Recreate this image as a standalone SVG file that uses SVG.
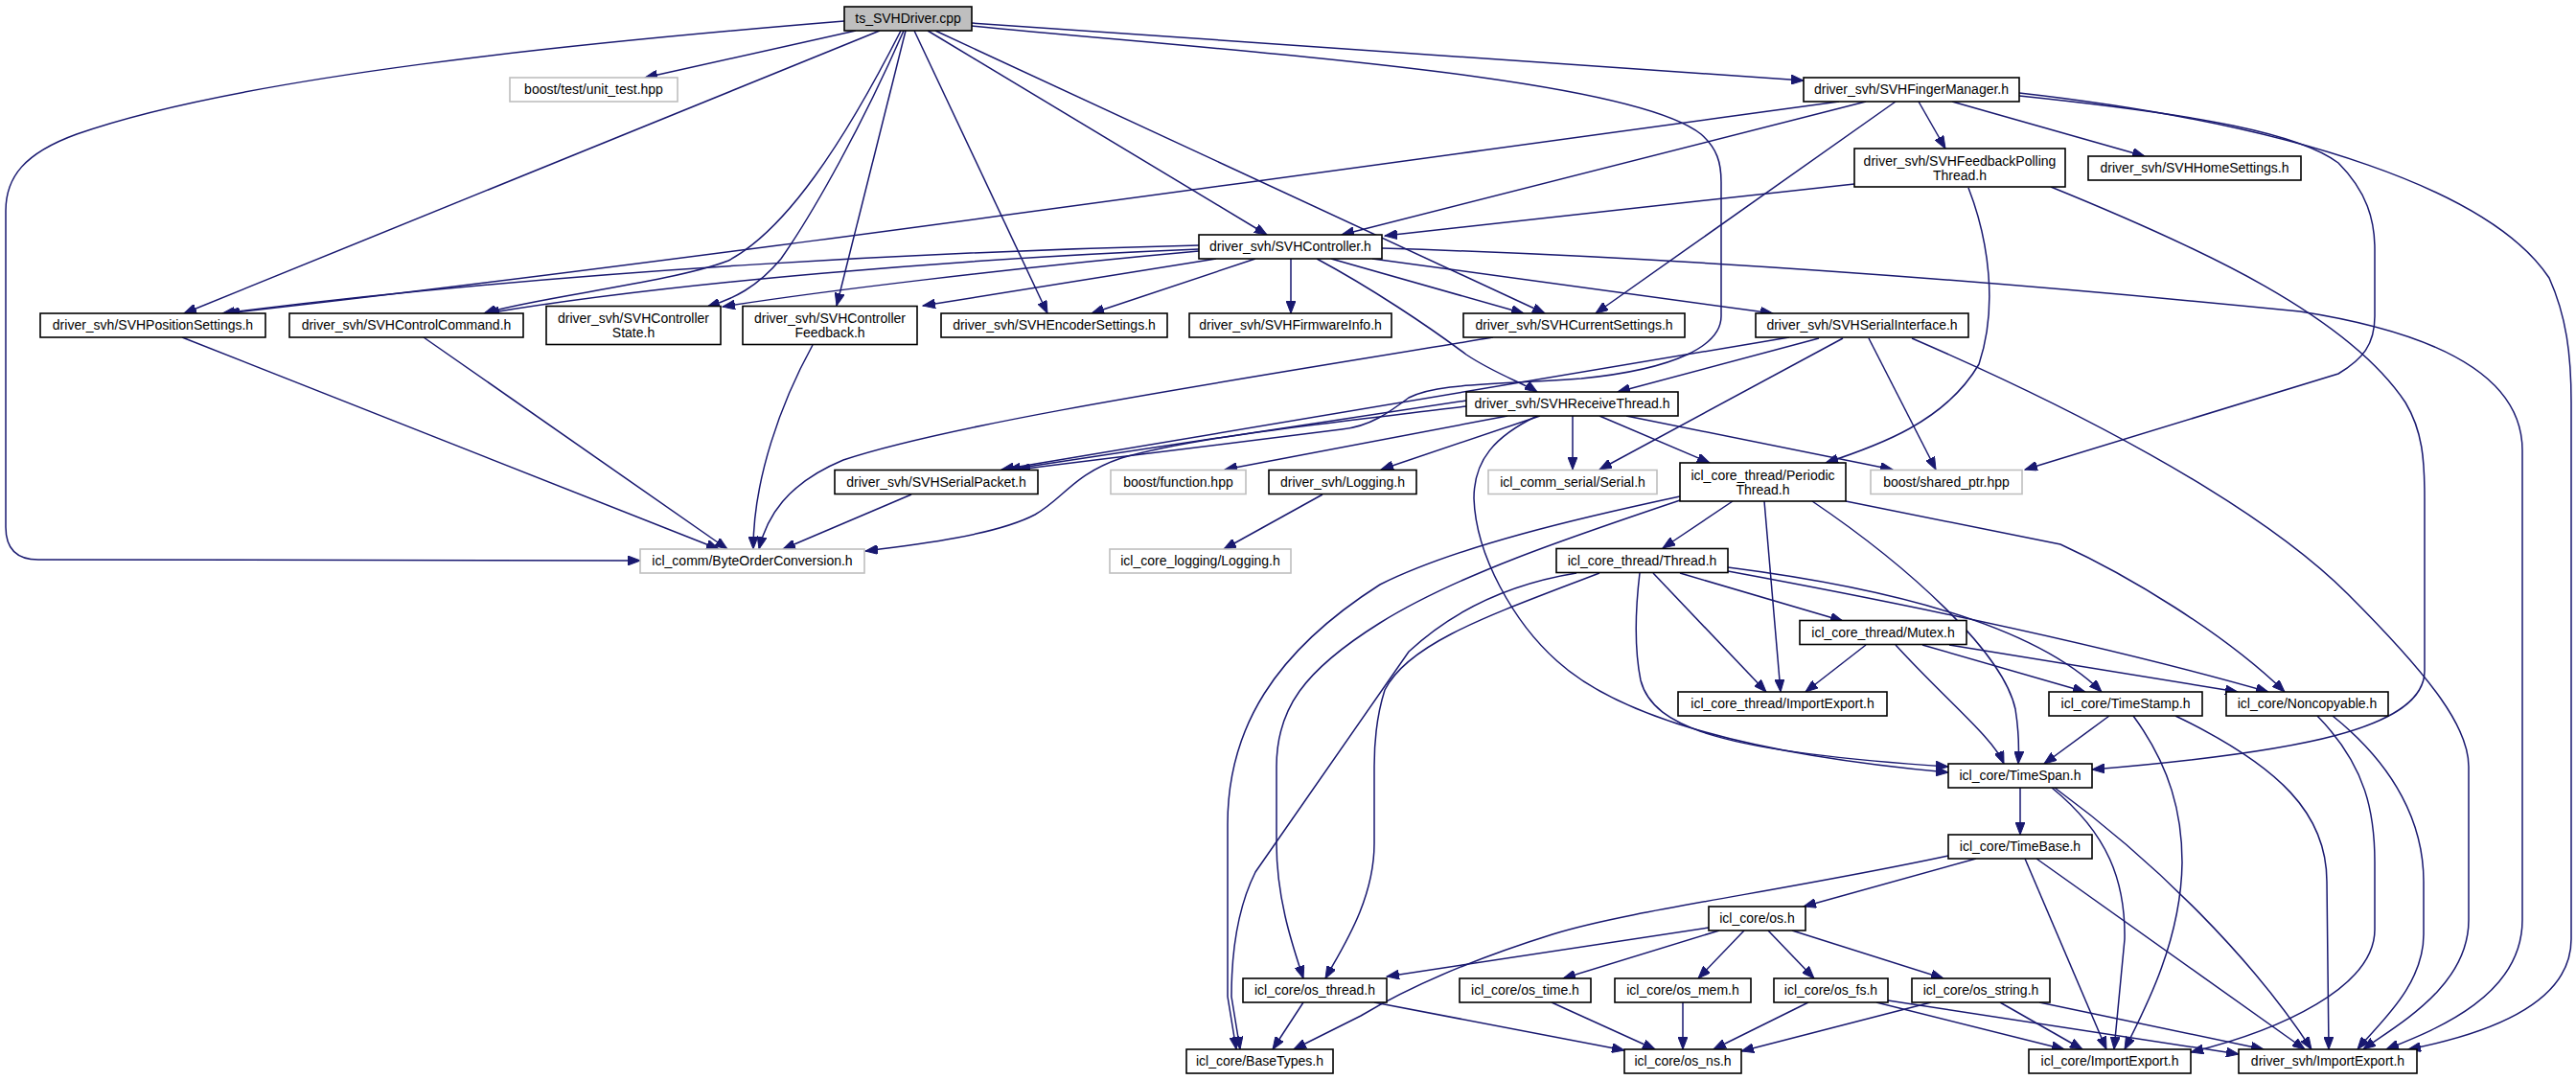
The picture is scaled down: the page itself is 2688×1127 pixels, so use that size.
<svg xmlns="http://www.w3.org/2000/svg" width="2688" height="1127" viewBox="0 0 2688 1127">
<defs>
<marker id="a" markerWidth="14" markerHeight="10" refX="13" refY="5" orient="auto" markerUnits="userSpaceOnUse"><path d="M0,0 L13,5 L0,10 z" fill="#191970" stroke="#191970" stroke-width="1"/></marker>
</defs>
<style>
.n rect{fill:#ffffff;stroke:#000000;stroke-width:1.6}
.g rect{stroke:#bfbfbf}
.r rect{fill:#bfbfbf}
text{font-family:"Liberation Sans",Arial,sans-serif;font-size:14px;text-anchor:middle;fill:#000000}
#edges path{fill:none;stroke:#191970;stroke-width:1.5;marker-end:url(#a)}
</style>
<rect x="0" y="0" width="2688" height="1127" fill="#ffffff"/>
<g id="edges">
<path d="M881,22 C600,45 250,80 80,140 C25,160 6,185 6,220 L6,550 Q6,584 40,584 L668,585"/>
<path d="M893,32 L673,81"/>
<path d="M918,32 L192,327"/>
<path d="M940,32 C880,150 820,240 760,272 C700,295 560,310 505,327"/>
<path d="M943,32 C900,130 850,220 815,270 C790,300 765,312 738,320"/>
<path d="M945,32 L873,319"/>
<path d="M954,32 L1093,327"/>
<path d="M968,32 L1322,245"/>
<path d="M976,32 L1612,327"/>
<path d="M1014,24 L1882,84"/>
<path d="M1014,27 C1300,55 1700,80 1775,140 C1792,155 1796,170 1796,190 L1796,330 C1796,360 1750,385 1650,395 C1550,402 1500,400 1470,415 C1450,430 1430,445 1400,448 L1062,490"/>
<path d="M1919,106 C1300,190 700,275 237,327"/>
<path d="M1947,106 L1400,245"/>
<path d="M1978,106 L1665,327"/>
<path d="M2002,106 L2030,155"/>
<path d="M2037,106 L2238,163"/>
<path d="M2107,100 C2300,120 2400,140 2440,170 C2470,200 2478,230 2478,260 L2478,330 C2478,360 2465,375 2440,390 L2113,490"/>
<path d="M2107,97 C2400,130 2600,200 2660,290 C2678,330 2683,370 2683,420 L2683,980 C2683,1050 2590,1080 2513,1095"/>
<path d="M1251,256 C1000,262 600,280 232,327"/>
<path d="M1251,260 C1000,270 700,295 508,327"/>
<path d="M1251,262 C1050,280 850,305 754,320"/>
<path d="M1269,270 L963,319"/>
<path d="M1310,270 L1139,327"/>
<path d="M1347,270 L1347,327"/>
<path d="M1374,270 C1430,300 1490,340 1530,370 C1560,390 1590,400 1604,409"/>
<path d="M1389,270 L1590,327"/>
<path d="M1432,270 L1850,327"/>
<path d="M1442,259 C1800,270 2150,300 2400,325 C2560,350 2632,400 2632,470 L2632,960 C2632,1040 2540,1075 2490,1095"/>
<path d="M1935,192 L1445,246"/>
<path d="M2054,196 C2075,250 2085,320 2065,380 C2030,440 1960,465 1905,483"/>
<path d="M2140,195 C2300,260 2450,330 2510,420 C2528,450 2530,480 2530,520 L2530,700 C2530,760 2400,785 2183,803"/>
<path d="M1867,352 L1045,490"/>
<path d="M1898,353 L1688,409"/>
<path d="M1923,353 L1669,490"/>
<path d="M1950,353 L2020,490"/>
<path d="M1995,353 C2150,420 2350,520 2450,620 C2540,710 2576,760 2576,800 L2576,960 C2576,1030 2500,1070 2466,1095"/>
<path d="M1558,352 C1300,395 1000,440 880,480 C820,505 800,540 792,573"/>
<path d="M1530,418 L1052,490"/>
<path d="M1530,424 C1400,440 1250,455 1170,478 C1120,495 1110,520 1080,537 C1040,558 960,568 903,575"/>
<path d="M1573,434 L1278,490"/>
<path d="M1607,434 L1441,490"/>
<path d="M1641,434 L1641,490"/>
<path d="M1669,434 L1784,483"/>
<path d="M1697,434 L1975,490"/>
<path d="M1604,434 C1560,455 1538,480 1538,520 C1540,580 1580,650 1625,690 C1680,740 1800,785 2033,806"/>
<path d="M951,516 L817,573"/>
<path d="M848,360 C815,420 786,500 786,573"/>
<path d="M190,352 L750,573"/>
<path d="M442,352 L759,573"/>
<path d="M1380,516 L1277,573"/>
<path d="M1808,523 L1735,572"/>
<path d="M1841,523 L1858,722"/>
<path d="M1891,523 C1990,590 2090,680 2103,740 C2107,765 2107,780 2106,797"/>
<path d="M1926,523 L2150,568 C2220,600 2320,660 2384,722"/>
<path d="M1753,518 C1650,540 1520,570 1440,610 C1330,680 1281,760 1281,860 L1281,1040 L1290,1095"/>
<path d="M1753,522 C1640,560 1520,600 1440,650 C1360,700 1332,740 1332,800 L1332,880 C1332,940 1350,990 1360,1021"/>
<path d="M1645,598 Q1540,615 1470,680 L1310,910 Q1285,960 1285,1040 L1294,1095"/>
<path d="M1669,598 C1560,640 1470,670 1445,720 C1437,745 1434,770 1434,800 L1434,880 C1434,940 1400,990 1383,1021"/>
<path d="M1711,598 C1706,640 1706,680 1712,710 C1725,760 1800,785 2033,800"/>
<path d="M1725,598 L1843,722"/>
<path d="M1753,598 L1923,648"/>
<path d="M1803,592 Q2100,630 2193,722"/>
<path d="M1803,596 Q2150,660 2367,722"/>
<path d="M1947,673 L1884,722"/>
<path d="M1978,673 C2030,730 2080,770 2091,797"/>
<path d="M2006,673 L2176,722"/>
<path d="M2034,673 L2335,722"/>
<path d="M2201,747 L2133,797"/>
<path d="M2226,747 C2265,800 2277,850 2277,900 C2276,980 2240,1050 2217,1095"/>
<path d="M2270,747 C2380,800 2428,850 2428,920 L2430,1095"/>
<path d="M2418,747 C2470,800 2478,850 2478,900 L2478,970 C2478,1030 2380,1075 2286,1098"/>
<path d="M2434,747 C2500,800 2529,860 2529,920 L2529,975 C2529,1030 2480,1070 2460,1095"/>
<path d="M2108,822 L2108,871"/>
<path d="M2141,822 C2200,870 2218,920 2217,980 L2206,1095"/>
<path d="M2144,822 C2250,900 2350,1000 2412,1095"/>
<path d="M2062,896 L1882,946"/>
<path d="M2033,893 C1860,930 1700,950 1620,975 C1540,1000 1470,1030 1420,1060 L1350,1095"/>
<path d="M2113,896 L2198,1095"/>
<path d="M2125,896 L2405,1095"/>
<path d="M1783,968 L1447,1019"/>
<path d="M1794,971 L1631,1021"/>
<path d="M1820,971 L1772,1021"/>
<path d="M1845,971 L1893,1021"/>
<path d="M1870,971 L2028,1021"/>
<path d="M1360,1046 L1328,1095"/>
<path d="M1434,1046 L1695,1096"/>
<path d="M1619,1046 L1727,1095"/>
<path d="M1756,1046 L1756,1095"/>
<path d="M1887,1046 L1788,1095"/>
<path d="M1958,1046 L2154,1095"/>
<path d="M1970,1044 L2336,1100"/>
<path d="M2015,1046 L1817,1097"/>
<path d="M2087,1046 L2173,1095"/>
<path d="M2128,1046 L2362,1095"/>
</g>
<g id="n_root" class="n r"><rect x="881" y="7" width="133" height="25"/><text x="947.5" y="24">ts_SVHDriver.cpp</text></g>
<g id="n_unit_test" class="n g"><rect x="532" y="81" width="175" height="25"/><text x="619.5" y="98">boost/test/unit_test.hpp</text></g>
<g id="n_fingermanager" class="n"><rect x="1882" y="81" width="225" height="25"/><text x="1994.5" y="98">driver_svh/SVHFingerManager.h</text></g>
<g id="n_feedbackpolling" class="n"><rect x="1935" y="155" width="220" height="40"/><text x="2045" y="172.5">driver_svh/SVHFeedbackPolling</text><text x="2045" y="187.5">Thread.h</text></g>
<g id="n_homesettings" class="n"><rect x="2179" y="163" width="222" height="25"/><text x="2290" y="180">driver_svh/SVHHomeSettings.h</text></g>
<g id="n_controller" class="n"><rect x="1251" y="245" width="191" height="25"/><text x="1346.5" y="262">driver_svh/SVHController.h</text></g>
<g id="n_positionsettings" class="n"><rect x="42" y="327" width="235" height="25"/><text x="159.5" y="344">driver_svh/SVHPositionSettings.h</text></g>
<g id="n_controlcommand" class="n"><rect x="302" y="327" width="244" height="25"/><text x="424" y="344">driver_svh/SVHControlCommand.h</text></g>
<g id="n_controllerstate" class="n"><rect x="570" y="319.5" width="182" height="40"/><text x="661" y="337">driver_svh/SVHController</text><text x="661" y="352">State.h</text></g>
<g id="n_controllerfeedback" class="n"><rect x="775" y="319.5" width="182" height="40"/><text x="866" y="337">driver_svh/SVHController</text><text x="866" y="352">Feedback.h</text></g>
<g id="n_encodersettings" class="n"><rect x="982" y="327" width="236" height="25"/><text x="1100" y="344">driver_svh/SVHEncoderSettings.h</text></g>
<g id="n_firmwareinfo" class="n"><rect x="1241" y="327" width="211" height="25"/><text x="1346.5" y="344">driver_svh/SVHFirmwareInfo.h</text></g>
<g id="n_currentsettings" class="n"><rect x="1527" y="327" width="231" height="25"/><text x="1642.5" y="344">driver_svh/SVHCurrentSettings.h</text></g>
<g id="n_serialinterface" class="n"><rect x="1832" y="327" width="222" height="25"/><text x="1943" y="344">driver_svh/SVHSerialInterface.h</text></g>
<g id="n_receivethread" class="n"><rect x="1530" y="409" width="221" height="25"/><text x="1640.5" y="426">driver_svh/SVHReceiveThread.h</text></g>
<g id="n_serialpacket" class="n"><rect x="871" y="490.5" width="212" height="25"/><text x="977" y="507.5">driver_svh/SVHSerialPacket.h</text></g>
<g id="n_function" class="n g"><rect x="1159" y="490.5" width="141" height="25"/><text x="1229.5" y="507.5">boost/function.hpp</text></g>
<g id="n_logging" class="n"><rect x="1324" y="490.5" width="154" height="25"/><text x="1401" y="507.5">driver_svh/Logging.h</text></g>
<g id="n_serial" class="n g"><rect x="1553" y="490.5" width="176" height="25"/><text x="1641" y="507.5">icl_comm_serial/Serial.h</text></g>
<g id="n_periodicthread" class="n"><rect x="1753" y="483" width="173" height="40"/><text x="1839.5" y="500.5">icl_core_thread/Periodic</text><text x="1839.5" y="515.5">Thread.h</text></g>
<g id="n_shared_ptr" class="n g"><rect x="1952" y="490.5" width="158" height="25"/><text x="2031" y="507.5">boost/shared_ptr.hpp</text></g>
<g id="n_byteorder" class="n g"><rect x="668" y="573" width="234" height="25"/><text x="785" y="590">icl_comm/ByteOrderConversion.h</text></g>
<g id="n_corelogging" class="n g"><rect x="1158" y="573" width="189" height="25"/><text x="1252.5" y="590">icl_core_logging/Logging.h</text></g>
<g id="n_thread" class="n"><rect x="1624" y="572.5" width="179" height="25"/><text x="1713.5" y="589.5">icl_core_thread/Thread.h</text></g>
<g id="n_mutex" class="n"><rect x="1878" y="647.5" width="174" height="25"/><text x="1965" y="664.5">icl_core_thread/Mutex.h</text></g>
<g id="n_thread_importexport" class="n"><rect x="1751" y="722" width="218" height="25"/><text x="1860" y="739">icl_core_thread/ImportExport.h</text></g>
<g id="n_timestamp" class="n"><rect x="2138" y="722" width="160" height="25"/><text x="2218" y="739">icl_core/TimeStamp.h</text></g>
<g id="n_noncopyable" class="n"><rect x="2323" y="722" width="169" height="25"/><text x="2407.5" y="739">icl_core/Noncopyable.h</text></g>
<g id="n_timespan" class="n"><rect x="2033" y="797" width="150" height="25"/><text x="2108" y="814">icl_core/TimeSpan.h</text></g>
<g id="n_timebase" class="n"><rect x="2033" y="871" width="150" height="25"/><text x="2108" y="888">icl_core/TimeBase.h</text></g>
<g id="n_os" class="n"><rect x="1783" y="946" width="101" height="25"/><text x="1833.5" y="963">icl_core/os.h</text></g>
<g id="n_os_thread" class="n"><rect x="1297" y="1021" width="150" height="25"/><text x="1372" y="1038">icl_core/os_thread.h</text></g>
<g id="n_os_time" class="n"><rect x="1523" y="1021" width="137" height="25"/><text x="1591.5" y="1038">icl_core/os_time.h</text></g>
<g id="n_os_mem" class="n"><rect x="1685" y="1021" width="142" height="25"/><text x="1756" y="1038">icl_core/os_mem.h</text></g>
<g id="n_os_fs" class="n"><rect x="1851" y="1021" width="119" height="25"/><text x="1910.5" y="1038">icl_core/os_fs.h</text></g>
<g id="n_os_string" class="n"><rect x="1995" y="1021" width="144" height="25"/><text x="2067" y="1038">icl_core/os_string.h</text></g>
<g id="n_basetypes" class="n"><rect x="1238" y="1095" width="153" height="25"/><text x="1314.5" y="1112">icl_core/BaseTypes.h</text></g>
<g id="n_os_ns" class="n"><rect x="1695" y="1095" width="122" height="25"/><text x="1756" y="1112">icl_core/os_ns.h</text></g>
<g id="n_core_importexport" class="n"><rect x="2117" y="1095" width="169" height="25"/><text x="2201.5" y="1112">icl_core/ImportExport.h</text></g>
<g id="n_driver_importexport" class="n"><rect x="2336" y="1095" width="186" height="25"/><text x="2429" y="1112">driver_svh/ImportExport.h</text></g>
</svg>
